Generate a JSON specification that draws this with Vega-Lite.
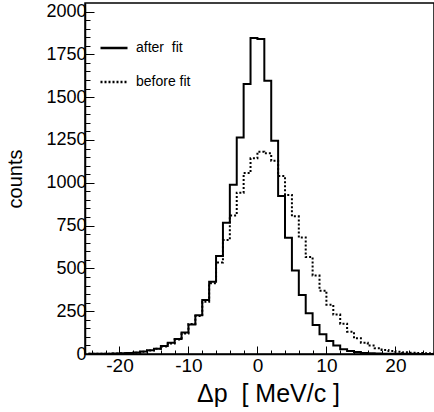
{
  "$schema": "https://vega.github.io/schema/vega-lite/v6.json",
  "width": 349,
  "height": 351,
  "autosize": {"type": "none"},
  "padding": {"left": 85, "top": 3, "right": 0, "bottom": 58},
  "background": "white",
  "config": {"view": {"stroke": "black", "strokeWidth": 1.5}, "font": "Liberation Sans"},
  "data": {"values": [
    {"dp": -24.5, "counts": 1, "fit": "after  fit"},
    {"dp": -23.5, "counts": 1, "fit": "after  fit"},
    {"dp": -22.5, "counts": 1, "fit": "after  fit"},
    {"dp": -21.5, "counts": 2, "fit": "after  fit"},
    {"dp": -20.5, "counts": 3, "fit": "after  fit"},
    {"dp": -19.5, "counts": 4, "fit": "after  fit"},
    {"dp": -18.5, "counts": 6, "fit": "after  fit"},
    {"dp": -17.5, "counts": 9, "fit": "after  fit"},
    {"dp": -16.5, "counts": 14, "fit": "after  fit"},
    {"dp": -15.5, "counts": 22, "fit": "after  fit"},
    {"dp": -14.5, "counts": 31, "fit": "after  fit"},
    {"dp": -13.5, "counts": 47, "fit": "after  fit"},
    {"dp": -12.5, "counts": 66, "fit": "after  fit"},
    {"dp": -11.5, "counts": 88, "fit": "after  fit"},
    {"dp": -10.5, "counts": 125, "fit": "after  fit"},
    {"dp": -9.5, "counts": 172, "fit": "after  fit"},
    {"dp": -8.5, "counts": 226, "fit": "after  fit"},
    {"dp": -7.5, "counts": 315, "fit": "after  fit"},
    {"dp": -6.5, "counts": 422, "fit": "after  fit"},
    {"dp": -5.5, "counts": 572, "fit": "after  fit"},
    {"dp": -4.5, "counts": 767, "fit": "after  fit"},
    {"dp": -3.5, "counts": 989, "fit": "after  fit"},
    {"dp": -2.5, "counts": 1265, "fit": "after  fit"},
    {"dp": -1.5, "counts": 1577, "fit": "after  fit"},
    {"dp": -0.5, "counts": 1845, "fit": "after  fit"},
    {"dp": 0.5, "counts": 1840, "fit": "after  fit"},
    {"dp": 1.5, "counts": 1596, "fit": "after  fit"},
    {"dp": 2.5, "counts": 1246, "fit": "after  fit"},
    {"dp": 3.5, "counts": 923, "fit": "after  fit"},
    {"dp": 4.5, "counts": 679, "fit": "after  fit"},
    {"dp": 5.5, "counts": 487, "fit": "after  fit"},
    {"dp": 6.5, "counts": 345, "fit": "after  fit"},
    {"dp": 7.5, "counts": 238, "fit": "after  fit"},
    {"dp": 8.5, "counts": 169, "fit": "after  fit"},
    {"dp": 9.5, "counts": 115, "fit": "after  fit"},
    {"dp": 10.5, "counts": 76, "fit": "after  fit"},
    {"dp": 11.5, "counts": 50, "fit": "after  fit"},
    {"dp": 12.5, "counts": 28, "fit": "after  fit"},
    {"dp": 13.5, "counts": 18, "fit": "after  fit"},
    {"dp": 14.5, "counts": 11, "fit": "after  fit"},
    {"dp": 15.5, "counts": 6, "fit": "after  fit"},
    {"dp": 16.5, "counts": 4, "fit": "after  fit"},
    {"dp": 17.5, "counts": 3, "fit": "after  fit"},
    {"dp": 18.5, "counts": 2, "fit": "after  fit"},
    {"dp": 19.5, "counts": 2, "fit": "after  fit"},
    {"dp": 20.5, "counts": 1, "fit": "after  fit"},
    {"dp": 21.5, "counts": 1, "fit": "after  fit"},
    {"dp": 22.5, "counts": 1, "fit": "after  fit"},
    {"dp": 23.5, "counts": 0, "fit": "after  fit"},
    {"dp": 24.5, "counts": 0, "fit": "after  fit"},
    {"dp": 25.5, "counts": 0, "fit": "after  fit"},
    {"dp": -24.5, "counts": 1, "fit": "before fit"},
    {"dp": -23.5, "counts": 1, "fit": "before fit"},
    {"dp": -22.5, "counts": 1, "fit": "before fit"},
    {"dp": -21.5, "counts": 2, "fit": "before fit"},
    {"dp": -20.5, "counts": 3, "fit": "before fit"},
    {"dp": -19.5, "counts": 4, "fit": "before fit"},
    {"dp": -18.5, "counts": 6, "fit": "before fit"},
    {"dp": -17.5, "counts": 8, "fit": "before fit"},
    {"dp": -16.5, "counts": 13, "fit": "before fit"},
    {"dp": -15.5, "counts": 20, "fit": "before fit"},
    {"dp": -14.5, "counts": 30, "fit": "before fit"},
    {"dp": -13.5, "counts": 44, "fit": "before fit"},
    {"dp": -12.5, "counts": 62, "fit": "before fit"},
    {"dp": -11.5, "counts": 85, "fit": "before fit"},
    {"dp": -10.5, "counts": 120, "fit": "before fit"},
    {"dp": -9.5, "counts": 175, "fit": "before fit"},
    {"dp": -8.5, "counts": 222, "fit": "before fit"},
    {"dp": -7.5, "counts": 305, "fit": "before fit"},
    {"dp": -6.5, "counts": 413, "fit": "before fit"},
    {"dp": -5.5, "counts": 535, "fit": "before fit"},
    {"dp": -4.5, "counts": 666, "fit": "before fit"},
    {"dp": -3.5, "counts": 809, "fit": "before fit"},
    {"dp": -2.5, "counts": 942, "fit": "before fit"},
    {"dp": -1.5, "counts": 1057, "fit": "before fit"},
    {"dp": -0.5, "counts": 1143, "fit": "before fit"},
    {"dp": 0.5, "counts": 1181, "fit": "before fit"},
    {"dp": 1.5, "counts": 1172, "fit": "before fit"},
    {"dp": 2.5, "counts": 1129, "fit": "before fit"},
    {"dp": 3.5, "counts": 1040, "fit": "before fit"},
    {"dp": 4.5, "counts": 929, "fit": "before fit"},
    {"dp": 5.5, "counts": 804, "fit": "before fit"},
    {"dp": 6.5, "counts": 681, "fit": "before fit"},
    {"dp": 7.5, "counts": 566, "fit": "before fit"},
    {"dp": 8.5, "counts": 458, "fit": "before fit"},
    {"dp": 9.5, "counts": 370, "fit": "before fit"},
    {"dp": 10.5, "counts": 288, "fit": "before fit"},
    {"dp": 11.5, "counts": 230, "fit": "before fit"},
    {"dp": 12.5, "counts": 177, "fit": "before fit"},
    {"dp": 13.5, "counts": 130, "fit": "before fit"},
    {"dp": 14.5, "counts": 92, "fit": "before fit"},
    {"dp": 15.5, "counts": 66, "fit": "before fit"},
    {"dp": 16.5, "counts": 49, "fit": "before fit"},
    {"dp": 17.5, "counts": 33, "fit": "before fit"},
    {"dp": 18.5, "counts": 23, "fit": "before fit"},
    {"dp": 19.5, "counts": 18, "fit": "before fit"},
    {"dp": 20.5, "counts": 13, "fit": "before fit"},
    {"dp": 21.5, "counts": 10, "fit": "before fit"},
    {"dp": 22.5, "counts": 8, "fit": "before fit"},
    {"dp": 23.5, "counts": 6, "fit": "before fit"},
    {"dp": 24.5, "counts": 5, "fit": "before fit"},
    {"dp": 25.5, "counts": 4, "fit": "before fit"}
  ]},
  "mark": {"type": "line", "interpolate": "step", "strokeWidth": 2, "color": "black", "clip": true},
  "encoding": {
    "x": {
      "field": "dp", "type": "quantitative",
      "scale": {"domain": [-25, 25.6], "nice": false, "zero": false},
      "axis": {
        "values": [-24,-22,-20,-18,-16,-14,-12,-10,-8,-6,-4,-2,0,2,4,6,8,10,12,14,16,18,20,22,24],
        "labelExpr": "datum.value % 10 === 0 ? '' + datum.value : ''",
        "labelOverlap": false, "labelFlush": false,
        "tickSize": {"condition": {"test": "datum.value % 10 === 0", "value": -8}, "value": -4},
        "tickColor": "black", "tickWidth": 1,
        "domainColor": "black", "domainWidth": 1.5,
        "labelFont": "Liberation Sans", "labelFontSize": 19, "labelColor": "black", "labelPadding": 10,
        "grid": false,
        "title": "Δp\u00a0 [ MeV/c ]", "titleFont": "Liberation Sans", "titleFontSize": 25, "titleFontWeight": "normal", "titleColor": "black",
        "titleX": 183, "titlePadding": 2
      }
    },
    "y": {
      "field": "counts", "type": "quantitative",
      "scale": {"domain": [0, 2050], "nice": false},
      "axis": {
        "values": [0,50,100,150,200,250,300,350,400,450,500,550,600,650,700,750,800,850,900,950,1000,1050,1100,1150,1200,1250,1300,1350,1400,1450,1500,1550,1600,1650,1700,1750,1800,1850,1900,1950,2000],
        "labelExpr": "datum.value % 250 === 0 ? '' + datum.value : ''",
        "labelOverlap": false, "labelFlush": false,
        "tickSize": {"condition": {"test": "datum.value % 250 === 0", "value": -9}, "value": -5},
        "tickColor": "black", "tickWidth": 1,
        "domainColor": "black", "domainWidth": 1.5,
        "labelFont": "Liberation Sans", "labelFontSize": 18, "labelColor": "black", "labelPadding": 8,
        "grid": false,
        "title": "counts", "titleFont": "Liberation Sans", "titleFontSize": 20, "titleFontWeight": "normal", "titleColor": "black",
        "titlePadding": 20
      }
    },
    "strokeDash": {
      "field": "fit", "type": "nominal",
      "scale": {"domain": ["after  fit", "before fit"], "range": [[1, 0], [2, 2]]},
      "legend": {
        "title": null, "orient": "none", "legendX": 14, "legendY": 30, "padding": 0,
        "symbolType": "stroke", "symbolSize": 729, "symbolStrokeWidth": 2.5, "symbolStrokeColor": "black",
        "labelFont": "Liberation Sans", "labelFontSize": 14, "labelColor": "black", "labelOffset": 7,
        "rowPadding": 12,
        "labelExpr": "datum.label == 'after  fit' ? 'after\u00a0 fit' : datum.label"
      }
    }
  }
}
